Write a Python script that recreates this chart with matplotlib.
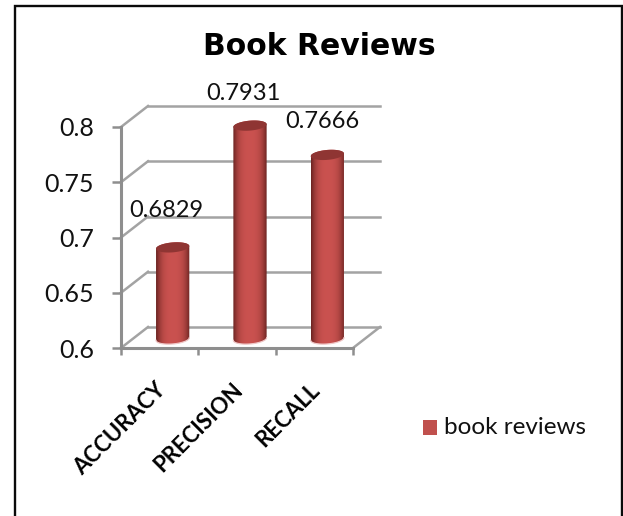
import matplotlib
matplotlib.use("Agg")
import matplotlib.pyplot as plt
import numpy as np
from matplotlib.patches import Polygon, Rectangle
from matplotlib.transforms import Affine2D

categories = ["ACCURACY", "PRECISION", "RECALL"]
values = [0.6829, 0.7931, 0.7666]
value_labels = ["0.6829", "0.7931", "0.7666"]
y_ticks = [0.6, 0.65, 0.7, 0.75, 0.8]
y_labels = ["0.6", "0.65", "0.7", "0.75", "0.8"]
series_name = "book reviews"

W, H = 623, 516
plt.rcParams["font.family"] = ["Lato", "DejaVu Sans"]
fig = plt.figure(figsize=(W / 100, H / 100), dpi=100)

# frame of the pasted picture
fig.add_artist(Rectangle((14.5 / W, -0.02), 607 / W, 1 - 6 / H + 0.02, transform=fig.transFigure,
                         fill=False, ec="#0a0a0a", lw=1.7))

# front plane of the fake 3d box
ax = fig.add_axes([121 / W, 1 - 348 / H, 232 / W, 221 / H])
ax.set_xlim(0, 3)
ax.set_ylim(0.6, 0.8)
ax.patch.set_visible(False)
for s in ["top", "right"]:
    ax.spines[s].set_visible(False)
for s in ["left", "bottom"]:
    ax.spines[s].set_color("#8e8e8e")
    ax.spines[s].set_linewidth(2.2)

# pixel offsets, dpi is fixed
back = ax.transData + Affine2D().translate(27, 21)
mid = ax.transData + Affine2D().translate(13, 9)

grid_color = "#a3a3a3"
for v in y_ticks:
    ax.plot([0, 3], [v, v], transform=back, color=grid_color, lw=1.8, clip_on=False, zorder=1)
    # side wall
    x0, y0 = ax.transData.transform((0, v))
    ax.plot([x0, x0 + 27], [y0, y0 + 21], transform=None, color=grid_color, lw=1.8,
            clip_on=False, zorder=1)
x1, y1 = ax.transData.transform((3, 0.6))
ax.plot([x1, x1 + 27], [y1, y1 + 21], transform=None, color=grid_color, lw=1.8,
        clip_on=False, zorder=1)

# cylinders
half_w = 0.215
ry = 0.0045
tilt = 0.0012
t = np.linspace(0, np.pi, 40)
for i, v in enumerate(values):
    xc = i + 0.5
    ex = half_w * np.cos(t)
    ey_top = ry * np.sin(t) + tilt * np.cos(t)
    ey_bot = -ry * np.sin(t) + tilt * np.cos(t)
    pts = np.vstack([np.column_stack([xc + ex, 0.6 + ey_bot]),
                     np.column_stack([xc + ex[::-1], v + ey_top[::-1]])])
    clip = Polygon(pts, closed=True, transform=mid, fc="none", ec="none", clip_on=False)
    ax.add_patch(clip)
    u = np.linspace(-1, 1, 64)
    shade = np.clip(1 - np.abs(u) ** 3, 0, 1)
    dark = np.array([0.42, 0.14, 0.13])
    light = np.array([0.79, 0.32, 0.31])
    grad = dark[None, :] + (light - dark)[None, :] * shade[:, None]
    img = ax.imshow(grad[None, :, :], extent=(xc - half_w, xc + half_w, 0.59, v + 0.02),
                    transform=mid, aspect="auto", zorder=3, interpolation="bilinear")
    img.set_clip_box(fig.bbox)
    img.set_clip_path(clip)
    # top cap
    tt = np.linspace(0, 2 * np.pi, 60)
    cap = np.column_stack([xc + half_w * np.cos(tt), v + ry * np.sin(tt) + tilt * np.cos(tt)])
    ax.add_patch(Polygon(cap, closed=True, transform=mid, fc="#8f3533", ec="none", zorder=4,
                         clip_on=False))
    # pale rim under the foot
    ax.plot(xc + ex, 0.6 + ey_bot, transform=mid, color="#f0c8c8", lw=0.9, zorder=4, clip_on=False)

ax.set_xlim(0, 3)
ax.set_ylim(0.6, 0.8)

ax.set_xticks([0, 1, 2, 3])
ax.set_xticklabels([])
ax.set_yticks(y_ticks)
ax.set_yticklabels(y_labels, fontsize=18, color="#111111")
ax.tick_params(axis="y", length=6.5, width=1.8, color="#8e8e8e", pad=13)
ax.tick_params(axis="x", length=5, width=1.8, color="#8e8e8e")

# category labels, rotated like the original
for i, c in enumerate(categories):
    ax.annotate(c, (i + 0.5, 0.6), xytext=(-5, -31), textcoords="offset pixels", rotation=45,
                rotation_mode="anchor", ha="right", va="top", fontsize=16, fontweight="bold",
                color="black", annotation_clip=False)

# data labels
label_off = [(7, 35), (6, 31), (8, 32)]
for i, v in enumerate(values):
    ax.annotate(value_labels[i], (i + 0.5, v), xytext=label_off[i], textcoords="offset pixels",
                ha="center", va="bottom", fontsize=17, color="#111111", annotation_clip=False)

fig.text(319 / W, 1 - 47 / H, "Book Reviews", ha="center", va="center", fontsize=21.5,
         fontweight="bold", family="DejaVu Sans", color="black")

# legend
fig.add_artist(Rectangle((423 / W, 1 - 435 / H), 14 / W, 15 / H, transform=fig.transFigure,
                         fc="#c0504d", ec="none"))
fig.text(444 / W, 1 - 427 / H, series_name, ha="left", va="center", fontsize=17.5, color="#111111")

fig.savefig("out.png", dpi=100)
